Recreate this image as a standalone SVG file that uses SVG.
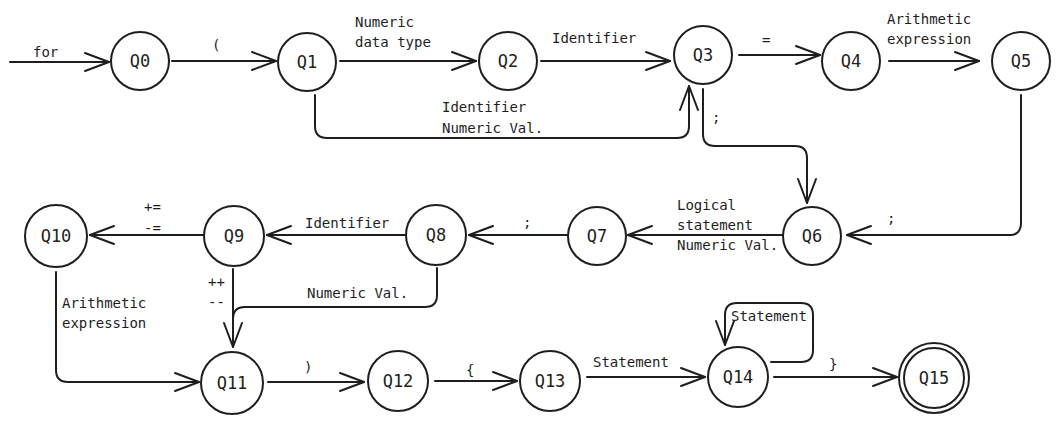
<svg xmlns="http://www.w3.org/2000/svg" width="1060" height="424" viewBox="0 0 1060 424">
<style>
.n{fill:#ffffff;stroke:#1e1e1e;stroke-width:2}
.nl{font-family:"DejaVu Sans Mono","Liberation Mono",monospace;font-size:17px;fill:#1e1e1e;text-anchor:middle;dominant-baseline:central}
.e{fill:none;stroke:#1e1e1e;stroke-width:2;stroke-linecap:round;stroke-linejoin:round}
.ea{marker-end:url(#arr)}
.l{font-family:"DejaVu Sans Mono","Liberation Mono",monospace;font-size:14px;fill:#1e1e1e;dominant-baseline:central}
</style>
<defs>
<marker id="arr" viewBox="-26 -12 28 24" refX="0" refY="0" markerWidth="28" markerHeight="24" markerUnits="userSpaceOnUse" orient="auto">
<path d="M-24,-9 L0,0 L-24,9" fill="none" stroke="#1e1e1e" stroke-width="2" stroke-linecap="round" stroke-linejoin="round"/>
</marker>
</defs>
<rect width="1060" height="424" fill="#ffffff"/>
<g id="connectors">
<path class="e ea" d="M10,62 H109"/>
<path class="e ea" d="M172,61 H276"/>
<path class="e ea" d="M340,61 H476"/>
<path class="e ea" d="M541,61 H670"/>
<path class="e ea" d="M739,55 H820"/>
<path class="e ea" d="M889,61 H979"/>
<path class="e ea" d="M315,95 V126 Q315,138 327,138 H677 Q689,138 689,126 V86"/>
<path class="e ea" d="M703,89 V134 Q703,146 715,146 H795 Q807,146 807,158 V203"/>
<path class="e ea" d="M1021,95 V223 Q1021,235 1009,235 H847"/>
<path class="e ea" d="M783,235 H628"/>
<path class="e ea" d="M568,235 H469"/>
<path class="e ea" d="M406,235 H267"/>
<path class="e ea" d="M204,235 H90"/>
<path class="e ea" d="M233,269 V347"/>
<path class="e" d="M437,268 V295 Q437,307 425,307 H245 Q233,307 233,319"/>
<path class="e ea" d="M56,272 V370 Q56,382 68,382 H199"/>
<path class="e ea" d="M268,382 H364"/>
<path class="e ea" d="M435,381 H517"/>
<path class="e ea" d="M587,377 H705"/>
<path class="e ea" d="M771,362 H801 Q813,362 813,350 V315 Q813,303 801,303 H737 Q725,303 725,315 V345"/>
<path class="e ea" d="M774,377 H897"/>
<text class="l" x="33" y="52">for</text>
<text class="l" x="212" y="45">(</text>
<text class="l" x="355" y="22">Numeric</text>
<text class="l" x="355" y="42">data type</text>
<text class="l" x="552" y="38">Identifier</text>
<text class="l" x="442" y="107">Identifier</text>
<text class="l" x="442" y="128">Numeric Val.</text>
<text class="l" x="762" y="40">=</text>
<text class="l" x="887" y="19">Arithmetic</text>
<text class="l" x="887" y="39">expression</text>
<text class="l" x="712" y="117">;</text>
<text class="l" x="887" y="218">;</text>
<text class="l" x="677" y="205">Logical</text>
<text class="l" x="677" y="225">statement</text>
<text class="l" x="677" y="245">Numeric Val.</text>
<text class="l" x="523" y="222">;</text>
<text class="l" x="305" y="223">Identifier</text>
<text class="l" x="144" y="207">+=</text>
<text class="l" x="144" y="228">-=</text>
<text class="l" x="208" y="282">++</text>
<text class="l" x="208" y="302">--</text>
<text class="l" x="307" y="293">Numeric Val.</text>
<text class="l" x="62" y="303">Arithmetic</text>
<text class="l" x="62" y="323">expression</text>
<text class="l" x="304" y="367">)</text>
<text class="l" x="466" y="370">{</text>
<text class="l" x="593" y="362">Statement</text>
<text class="l" x="731" y="316">Statement</text>
<text class="l" x="829" y="364">}</text>
</g>
<g id="Q0"><circle class="n" cx="140" cy="61" r="29"/><text class="nl" x="140" y="61">Q0</text></g>
<g id="Q1"><circle class="n" cx="307" cy="62" r="29"/><text class="nl" x="307" y="62">Q1</text></g>
<g id="Q2"><circle class="n" cx="508" cy="61" r="29"/><text class="nl" x="508" y="61">Q2</text></g>
<g id="Q3"><circle class="n" cx="703" cy="55" r="29"/><text class="nl" x="703" y="55">Q3</text></g>
<g id="Q4"><circle class="n" cx="851" cy="61" r="29"/><text class="nl" x="851" y="61">Q4</text></g>
<g id="Q5"><circle class="n" cx="1021" cy="61" r="29"/><text class="nl" x="1021" y="61">Q5</text></g>
<g id="Q6"><circle class="n" cx="812" cy="236" r="29"/><text class="nl" x="812" y="236">Q6</text></g>
<g id="Q7"><circle class="n" cx="597" cy="236" r="29"/><text class="nl" x="597" y="236">Q7</text></g>
<g id="Q8"><circle class="n" cx="436" cy="235" r="30"/><text class="nl" x="436" y="235">Q8</text></g>
<g id="Q9"><circle class="n" cx="234" cy="236" r="30"/><text class="nl" x="234" y="236">Q9</text></g>
<g id="Q10"><circle class="n" cx="56" cy="236" r="31"/><text class="nl" x="56" y="236">Q10</text></g>
<g id="Q11"><circle class="n" cx="232" cy="383" r="31"/><text class="nl" x="232" y="383">Q11</text></g>
<g id="Q12"><circle class="n" cx="398" cy="381" r="30"/><text class="nl" x="398" y="381">Q12</text></g>
<g id="Q13"><circle class="n" cx="550" cy="381" r="30"/><text class="nl" x="550" y="381">Q13</text></g>
<g id="Q14"><circle class="n" cx="738" cy="377" r="30"/><text class="nl" x="738" y="377">Q14</text></g>
<g id="Q15"><circle class="n" cx="934" cy="378" r="35"/><circle class="n" cx="934" cy="378" r="30"/><text class="nl" x="934" y="378">Q15</text></g>
</svg>
